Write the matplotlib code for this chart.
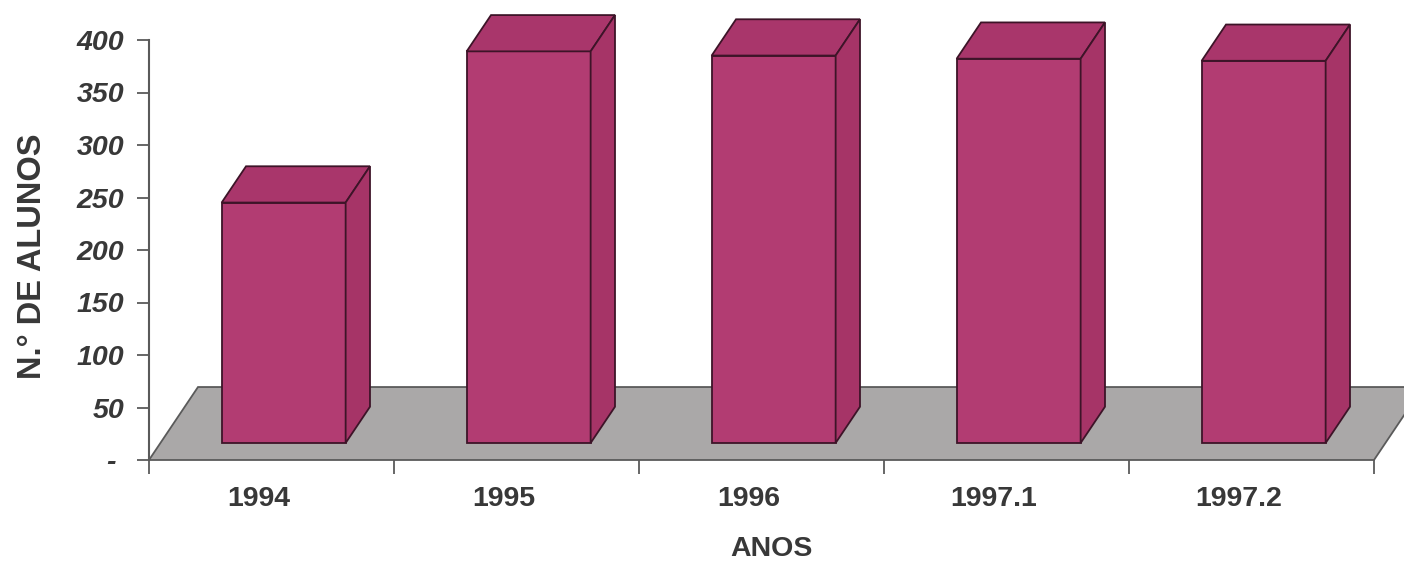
import matplotlib
matplotlib.use("Agg")
import matplotlib.pyplot as plt
from matplotlib.patches import Polygon
from matplotlib.transforms import ScaledTranslation

# ---- data ----
categories = ["1994", "1995", "1996", "1997.1", "1997.2"]
values = [229, 373, 369, 366, 364]
yticks = [0, 50, 100, 150, 200, 250, 300, 350, 400]
ytick_labels = ["- ", "50", "100", "150", "200", "250", "300", "350", "400"]
ylabel = "N.° DE ALUNOS"
xlabel = "ANOS"

# ---- style ----
W, H = 1404, 563
front_col = "#b23c72"
top_col = "#a9366b"
side_col = "#a63467"
edge_col = "#3d1428"
floor_col = "#aaa8a8"
floor_edge = "#5a5a5a"
txt_col = "#383838"
axis_col = "#5a5a5a"

# oblique projection: full floor depth -> (dx in category units, dy in value units)
DX, DY = 0.20, 69.5
d0, d1 = 0.233, 0.73        # bar depth range (fraction of floor depth)
bar_left, bar_w = 0.25, 0.506

plt.rcParams["font.family"] = ["Liberation Sans", "DejaVu Sans"]
fig = plt.figure(figsize=(W / 100, H / 100), dpi=100)
ax = fig.add_axes([149 / W, (H - 460) / H, 1225 / W, 420 / H])
ax.set_xlim(0, len(categories))
ax.set_ylim(0, 400)

# floor
n = len(categories)
floor = Polygon([(0, 0), (n, 0), (n + DX, DY), (DX, DY)], closed=True,
                facecolor=floor_col, edgecolor=floor_edge, lw=1.3,
                clip_on=False, zorder=1)
ax.add_patch(floor)

# bars
for i, v in enumerate(values):
    x0 = i + bar_left + d0 * DX
    y0 = d0 * DY
    x1 = x0 + bar_w
    ddx = (d1 - d0) * DX
    ddy = (d1 - d0) * DY
    ax.bar(x0, v, width=bar_w, bottom=y0, align="edge", color=front_col,
           edgecolor=edge_col, lw=1.3, zorder=3, clip_on=False)
    top = Polygon([(x0, y0 + v), (x1, y0 + v), (x1 + ddx, y0 + v + ddy),
                   (x0 + ddx, y0 + v + ddy)], closed=True, facecolor=top_col,
                  edgecolor=edge_col, lw=1.3, zorder=3, clip_on=False)
    side = Polygon([(x1, y0), (x1 + ddx, y0 + ddy), (x1 + ddx, y0 + v + ddy),
                    (x1, y0 + v)], closed=True, facecolor=side_col,
                   edgecolor=edge_col, lw=1.3, zorder=3, clip_on=False)
    ax.add_patch(top)
    ax.add_patch(side)

# spines / ticks
for s in ["top", "right", "bottom"]:
    ax.spines[s].set_visible(False)
ax.spines["left"].set_color(axis_col)
ax.spines["left"].set_linewidth(1.5)
ax.spines["left"].set_zorder(0.5)

ax.set_yticks(yticks)
ax.set_yticklabels(ytick_labels, fontsize=20.5, fontweight="bold",
                   fontstyle="italic", color=txt_col)
ax.tick_params(axis="y", length=9, width=1.3, color=axis_col, pad=9)

ax.set_xticks(range(n + 1))
ax.set_xticklabels([])
ax.set_xticks([i + 0.5 for i in range(n)], minor=True)
ax.set_xticklabels(categories, minor=True, fontsize=20.5, fontweight="bold",
                   color=txt_col)
ax.tick_params(axis="x", which="major", length=10, width=1.3, color=axis_col)
ax.tick_params(axis="x", which="minor", length=0, pad=19)
off = ScaledTranslation(-13 / 100, 0, fig.dpi_scale_trans)
for lab in ax.get_xticklabels(minor=True):
    lab.set_transform(lab.get_transform() + off)

fig.text(33 / W, 1 - 256 / H, ylabel, rotation=90, ha="center", va="center",
         fontsize=23.5, fontweight="bold", color=txt_col)
fig.text(771 / W, 1 - 549 / H, xlabel, ha="center", va="center",
         fontsize=20.5, fontweight="bold", color=txt_col)

fig.savefig("out.png", dpi=100, facecolor="white")
